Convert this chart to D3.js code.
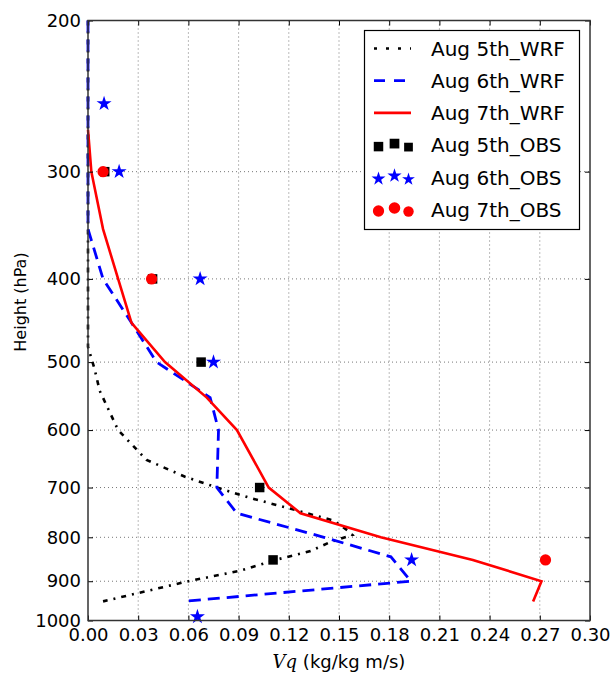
<!DOCTYPE html>
<html>
<head>
<meta charset="utf-8">
<script src="https://cdn.jsdelivr.net/npm/d3@7"></script>
<style>
  body { margin: 0; background: #fff; }
  text { font-family: "DejaVu Sans", sans-serif; fill: #000; }
</style>
</head>
<body>
<script>
var w = 611;
var h = 673;

var padL = 88, padR = 590, padT = 20.5, padB = 620.5;

// model profiles (pressure hPa, Vq)
var wrf5P = [200, 480, 510, 540, 600, 650, 680, 700, 720, 740, 765, 785, 795, 810, 830, 850, 875, 900, 950];
var wrf5V = [0, 0, 0.004, 0.007, 0.018, 0.035, 0.058, 0.077, 0.097, 0.12, 0.147, 0.155, 0.158, 0.145, 0.133, 0.112, 0.091, 0.06, 0.009];

var wrf6P = [200, 350, 400, 450, 500, 540, 550, 600, 700, 750, 800, 843, 900, 950];
var wrf6V = [0, 0, 0.009, 0.026, 0.041, 0.067, 0.073, 0.078, 0.077, 0.089, 0.141, 0.181, 0.193, 0.057];

var wrf7P = [268, 300, 350, 400, 450, 500, 550, 600, 700, 750, 800, 850, 900, 950];
var wrf7V = [0, 0.002, 0.009, 0.018, 0.026, 0.046, 0.071, 0.089, 0.108, 0.127, 0.175, 0.23, 0.271, 0.266];

// observations
var obs5P = [300, 400, 500, 700, 850];
var obs5V = [0.010, 0.0386, 0.0676, 0.1026, 0.1106];

var obs6P = [250, 300, 400, 500, 850, 990];
var obs6V = [0.0096, 0.0186, 0.067, 0.075, 0.1934, 0.0654];

var obs7P = [300, 400, 850];
var obs7V = [0.009, 0.038, 0.2734];

var xTicks = [0, 0.03, 0.06, 0.09, 0.12, 0.15, 0.18, 0.21, 0.24, 0.27, 0.30];
var yTicks = [200, 300, 400, 500, 600, 700, 800, 900, 1000];

var legendLabels = ["Aug 5th_WRF", "Aug 6th_WRF", "Aug 7th_WRF", "Aug 5th_OBS", "Aug 6th_OBS", "Aug 7th_OBS"];

var xScale = d3.scaleLinear().domain([0, 0.30]).range([padL, padR]);
var yScale = d3.scaleLog().domain([200, 1000]).range([padT, padB]);

var svg = d3.select("body").append("svg")
    .attr("width", w)
    .attr("height", h);

// grid
var grid = svg.append("g");
grid.selectAll(".gx").data(xTicks.slice(1, -1)).enter().append("line")
    .attr("x1", function(d) { return xScale(d); })
    .attr("x2", function(d) { return xScale(d); })
    .attr("y1", padT).attr("y2", padB)
    .attr("stroke", "#777").attr("stroke-width", 1).attr("stroke-dasharray", "1,3");
grid.selectAll(".gy").data(yTicks.slice(1, -1)).enter().append("line")
    .attr("y1", function(d) { return yScale(d); })
    .attr("y2", function(d) { return yScale(d); })
    .attr("x1", padL).attr("x2", padR)
    .attr("stroke", "#777").attr("stroke-width", 1).attr("stroke-dasharray", "1,3");

// lines
function profile(P, V) {
    return P.map(function(p, i) { return [V[i], p]; });
}
var line = d3.line()
    .x(function(d) { return xScale(d[0]); })
    .y(function(d) { return yScale(d[1]); });

svg.append("path").datum(profile(wrf5P, wrf5V))
    .attr("d", line).attr("fill", "none")
    .attr("stroke", "#000").attr("stroke-width", 2.6)
    .attr("stroke-dasharray", "5,6,2,6");

svg.append("path").datum(profile(wrf6P, wrf6V))
    .attr("d", line).attr("fill", "none")
    .attr("stroke", "#0000ff").attr("stroke-width", 2.8)
    .attr("stroke-dasharray", "12,7");

svg.append("path").datum(profile(wrf7P, wrf7V))
    .attr("d", line).attr("fill", "none")
    .attr("stroke", "#ff0000").attr("stroke-width", 2.6);

// observation markers
var sq = d3.symbol().type(d3.symbolSquare).size(90);
var star = d3.symbol().type(d3.symbolStar).size(70);
var circ = d3.symbol().type(d3.symbolCircle).size(100);

svg.selectAll(".o5").data(profile(obs5P, obs5V)).enter().append("path")
    .attr("d", sq)
    .attr("transform", function(d) { return "translate(" + xScale(d[0]) + "," + yScale(d[1]) + ")"; })
    .attr("fill", "#000");

svg.selectAll(".o6").data(profile(obs6P, obs6V)).enter().append("path")
    .attr("d", star)
    .attr("transform", function(d) { return "translate(" + xScale(d[0]) + "," + yScale(d[1]) + ")"; })
    .attr("fill", "#0000ff");

svg.selectAll(".o7").data(profile(obs7P, obs7V)).enter().append("path")
    .attr("d", circ)
    .attr("transform", function(d) { return "translate(" + xScale(d[0]) + "," + yScale(d[1]) + ")"; })
    .attr("fill", "#ff0000");

// axes
var fmt = d3.format(".2f");
var xAxis = svg.append("g").attr("transform", "translate(0," + padB + ")")
    .call(d3.axisBottom(xScale).tickValues(xTicks).tickFormat(fmt).tickSize(-5).tickPadding(8));
svg.append("g").attr("transform", "translate(0," + padT + ")")
    .call(d3.axisTop(xScale).tickValues(xTicks).tickFormat("").tickSize(-5));
var yAxis = svg.append("g").attr("transform", "translate(" + padL + ",0)")
    .call(d3.axisLeft(yScale).tickValues(yTicks).tickFormat(d3.format("d")).tickSize(-5).tickPadding(7));
svg.append("g").attr("transform", "translate(" + padR + ",0)")
    .call(d3.axisRight(yScale).tickValues(yTicks).tickFormat("").tickSize(-5));

svg.selectAll(".domain").remove();
svg.selectAll(".tick line").attr("stroke", "#000").attr("stroke-width", 1);
xAxis.selectAll("text").attr("font-size", 18).attr("font-family", "DejaVu Sans").attr("fill", "#000");
yAxis.selectAll("text").attr("font-size", 18).attr("font-family", "DejaVu Sans").attr("fill", "#000");

svg.append("rect")
    .attr("x", padL).attr("y", padT)
    .attr("width", padR - padL).attr("height", padB - padT)
    .attr("fill", "none").attr("stroke", "#333").attr("stroke-width", 1.5);

// axis titles
var xl = svg.append("text")
    .attr("x", 339).attr("y", 668)
    .attr("text-anchor", "middle")
    .attr("font-size", 18);
xl.append("tspan").attr("font-family", "DejaVu Serif").attr("font-style", "italic").text("Vq");
xl.append("tspan").text(" (kg/kg m/s)");

svg.append("text")
    .attr("transform", "translate(26,302) rotate(-90)")
    .attr("text-anchor", "middle")
    .attr("font-size", 16)
    .text("Height (hPa)");

// legend
var lg = svg.append("g");
lg.append("rect")
    .attr("x", 364.5).attr("y", 30.5)
    .attr("width", 215).attr("height", 199)
    .attr("fill", "#fff").attr("stroke", "#000").attr("stroke-width", 1.2);

var rowY = function(i) { return 48.5 + i * 32.2; };

lg.selectAll(".lt").data(legendLabels).enter().append("text")
    .attr("x", 431)
    .attr("y", function(d, i) { return rowY(i); })
    .attr("dy", "0.36em")
    .attr("font-size", 20)
    .text(function(d) { return d; });

var lineStyles = [
    { c: "#000", dash: "3,9", wd: 2.6 },
    { c: "#0000ff", dash: "11,9", wd: 2.8 },
    { c: "#ff0000", dash: null, wd: 2.6 }
];
lg.selectAll(".ll").data(lineStyles).enter().append("line")
    .attr("x1", 374).attr("x2", 411)
    .attr("y1", function(d, i) { return rowY(i); })
    .attr("y2", function(d, i) { return rowY(i); })
    .attr("stroke", function(d) { return d.c; })
    .attr("stroke-width", function(d) { return d.wd; })
    .attr("stroke-dasharray", function(d) { return d.dash; });

var legMarkX = [378.5, 394.5, 408.5];
var legMarkDy = [1.5, -1.5, 2];
var legMarkScale = [1.0, 1.05, 0.85];
var legSyms = [
    { t: d3.symbolSquare, s: 90, c: "#000" },
    { t: d3.symbolStar, s: 60, c: "#0000ff" },
    { t: d3.symbolCircle, s: 100, c: "#ff0000" }
];
legSyms.forEach(function(sym, r) {
    legMarkX.forEach(function(mx, k) {
        lg.append("path")
            .attr("d", d3.symbol().type(sym.t).size(sym.s * legMarkScale[k]))
            .attr("transform", "translate(" + mx + "," + (rowY(r + 3) + legMarkDy[k]) + ")")
            .attr("fill", sym.c);
    });
});
</script>
</body>
</html>
